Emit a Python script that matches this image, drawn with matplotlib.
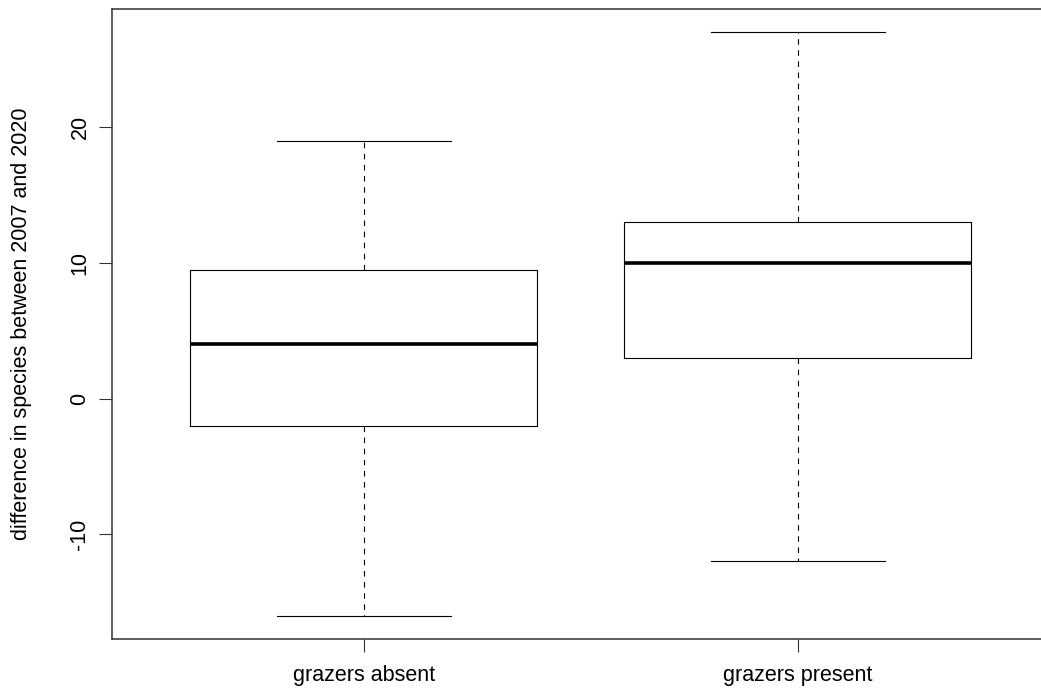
import numpy as np
import matplotlib
matplotlib.use("Agg")
from matplotlib import pyplot as plt

### data ###

groups = ["grazers absent", "grazers present"]
whisker_low = [-16, -12]
q1 = [-2, 3]
median = [4, 10]
q3 = [9.5, 13]
whisker_high = [19, 27]
yticks = [-10, 0, 10, 20]

### style ###

plt.rcParams["font.family"] = ["Liberation Sans", "DejaVu Sans"]
plt.rcParams["font.size"] = 15.5

fig = plt.figure(figsize=(10.41, 6.93), dpi=100)
# plot region runs a little past the right edge of the figure
ax = fig.add_axes([0.1076, 0.0779, 0.9005, 0.9091])

stats = []
for i, name in enumerate(groups):
    stats.append({
        "label": name,
        "whislo": whisker_low[i],
        "q1": q1[i],
        "med": median[i],
        "q3": q3[i],
        "whishi": whisker_high[i],
        "fliers": [],
    })

lw = 0.8
ax.bxp(
    stats, positions=[1, 2], widths=0.8, capwidths=0.4,
    showfliers=False, patch_artist=False,
    boxprops=dict(color="black", linewidth=lw),
    whiskerprops=dict(color="black", linewidth=lw, linestyle=(0, (5, 5))),
    capprops=dict(color="black", linewidth=lw),
    medianprops=dict(color="black", linewidth=2.6, solid_capstyle="butt"),
)

ax.set_xlim(0.42, 2.58)
ax.set_ylim(-17.72, 28.72)
ax.set_yticks(yticks)
ax.set_yticklabels([str(v) for v in yticks], rotation=90, va="center")
ax.set_xticks([1, 2])
ax.set_xticklabels(groups)
ax.tick_params(axis="both", length=9.5, width=lw, color="#333333")
ax.tick_params(axis="y", pad=6)
ax.tick_params(axis="x", pad=9)

for s in ax.spines.values():
    s.set_linewidth(1.1)
    s.set_color("#333333")

# y label placed in axes coords, 32 px from the left edge of the figure
ax.set_ylabel("difference in species between 2007 and 2020")
ax.yaxis.set_label_coords((32 - 112) / 937.4, 0.5)

fig.savefig("out.png", dpi=100)
